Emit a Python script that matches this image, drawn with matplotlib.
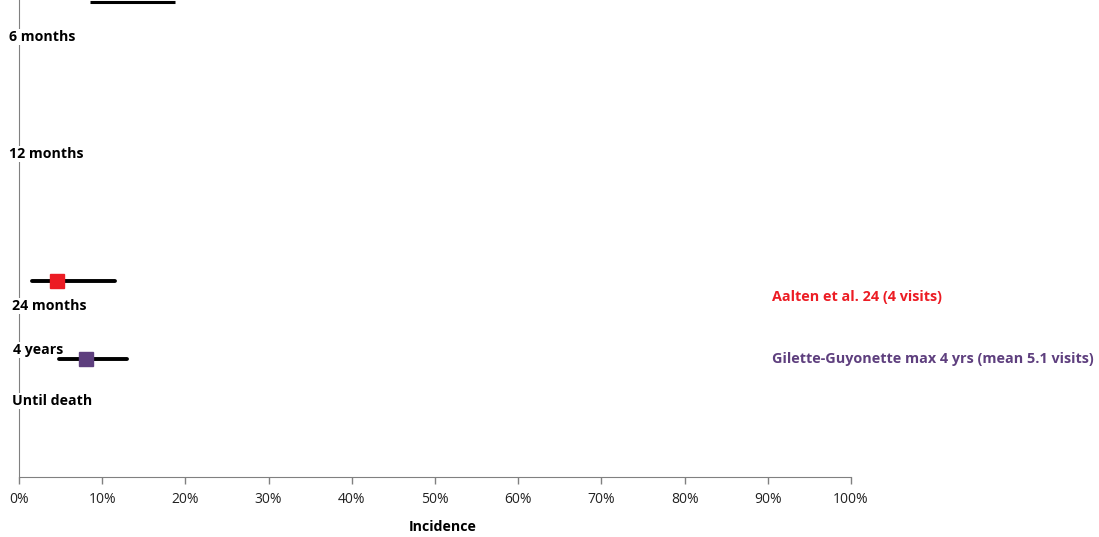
import matplotlib.pyplot as plt
from matplotlib.ticker import PercentFormatter
import numpy as np

# period categories along the vertical axis (row positions, top = 0)
periods = ['6 months', '12 months', '24 months', '4 years', 'Until death']
period_rows = [0.78, 3.23, 6.42, 7.34, 8.41]
period_dx = [-0.012, -0.012, -0.008, -0.007, -0.008]

# studies: point estimate with lower / upper bound (fraction)
studies = ['Aalten et al. 24 (4 visits)', 'Gilette-Guyonette max 4 yrs (mean 5.1 visits)']
study_rows = [5.89, 7.53]
study_mid = [0.0457, 0.0805]
study_low = [0.016, 0.048]
study_high = [0.115, 0.130]
study_colors = ['#EC1C24', '#5E3F7E']
label_rows = [6.22, 7.53]

# bar clipped at the top edge
top_low, top_high, top_row = 0.085, 0.188, 0.04

plt.rcParams['font.family'] = ['Open Sans', 'DejaVu Sans']

fig = plt.figure(figsize=(10.99, 5.37), dpi=100)
ax = fig.add_axes([19 / 1099, 60 / 537, 832 / 1099, 477 / 537])

ax.set_xlim(0, 1)
ax.set_ylim(10, 0)

ax.hlines(top_row, top_low, top_high, color='black', lw=2.2, clip_on=False)

for r, m, lo, hi, c in zip(study_rows, study_mid, study_low, study_high, study_colors):
    ax.hlines(r, lo, hi, color='black', lw=2.8, capstyle='round', zorder=6)
    ax.plot(m, r, 's', color=c, ms=9.5, zorder=7)

for r, txt, c in zip(label_rows, studies, study_colors):
    ax.text(0.905, r, txt, color=c, fontsize=10.4, fontweight='bold',
            ha='left', va='center', clip_on=False)

for r, txt, dx in zip(period_rows, periods, period_dx):
    ax.text(dx, r, txt, fontsize=10.2, fontweight='bold', ha='left', va='center',
            color='black', zorder=5, clip_on=False,
            bbox=dict(facecolor='white', edgecolor='none', pad=0.6))

ax.spines['top'].set_visible(False)
ax.spines['right'].set_visible(False)
ax.spines['left'].set_color('#808080')
ax.spines['bottom'].set_color('#808080')
ax.spines['left'].set_zorder(1)

ax.set_yticks([])
ax.set_xticks(np.arange(0, 1.01, 0.1))
ax.xaxis.set_major_formatter(PercentFormatter(1.0, decimals=0))
ax.tick_params(axis='x', direction='out', length=5, width=1, color='#808080',
               labelsize=10, labelcolor='#222222', pad=6)
ax.set_xlabel('Incidence', fontsize=10.2, fontweight='bold')
ax.xaxis.set_label_coords(0.509, -0.09)

fig.savefig('out.png', dpi=100)
